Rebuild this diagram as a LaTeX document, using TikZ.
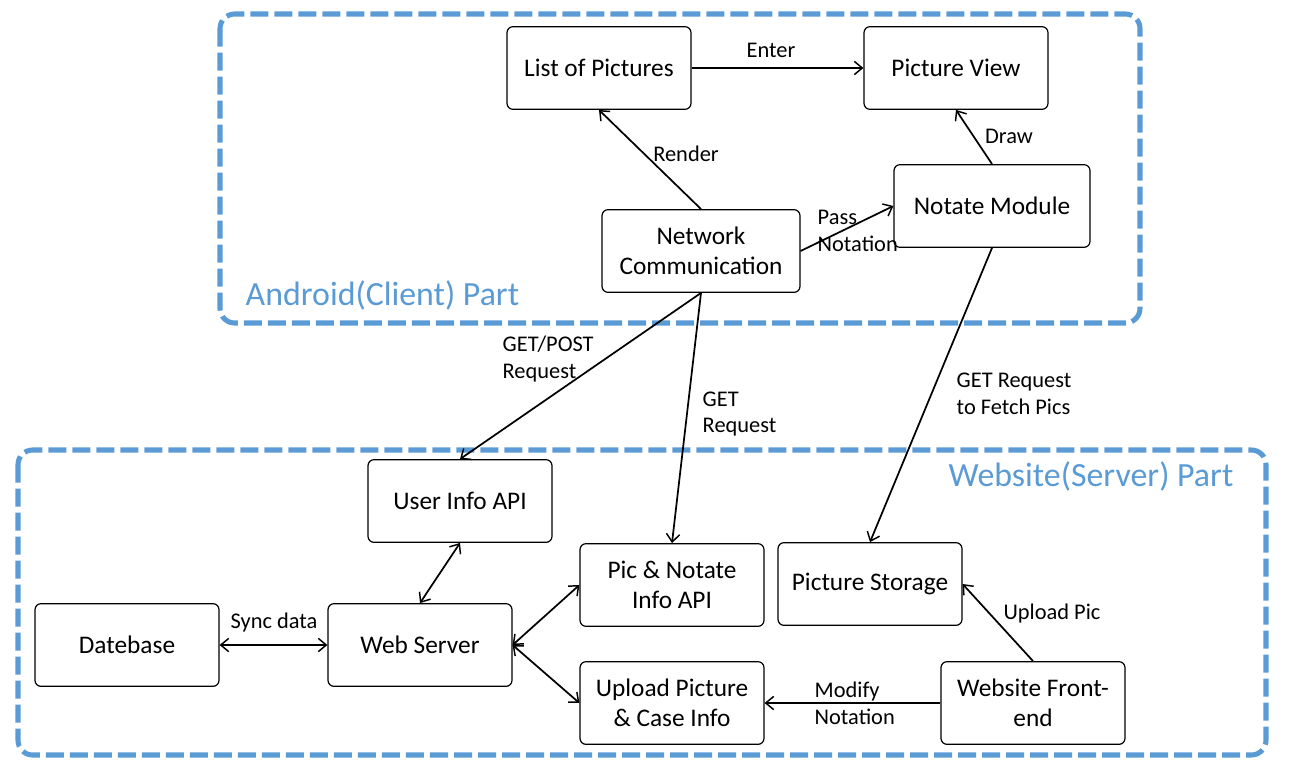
\documentclass[tikz,border=0pt]{standalone}
\usepackage{fontspec}
\setmainfont{Carlito}
\usetikzlibrary{arrows.meta}

\definecolor{partblue}{RGB}{91,155,213}

\tikzset{
  box/.style={draw,black,line width=0.9pt,rounded corners=4.5pt,minimum width=138pt,minimum height=62pt,align=center,font=\fontsize{19}{22.5}\selectfont},
  lbl/.style={align=left,font=\fontsize{16.8}{20}\selectfont},
  part/.style={draw=partblue,line width=3.8pt,rounded corners=11pt,dash pattern=on 13.5pt off 4.5pt},
  parttitle/.style={text=partblue,font=\fontsize{25.4}{30}\selectfont},
  arr/.style={line width=1.3pt,-{Straight Barb[length=6pt,width=10pt,line width=1.1pt]}},
  darr/.style={line width=1.3pt,{Straight Barb[length=6pt,width=10pt,line width=1.1pt]}-{Straight Barb[length=6pt,width=10pt,line width=1.1pt]}}
}

\begin{document}
\begin{tikzpicture}[x=0.75pt,y=0.75pt,yscale=-1,xscale=1]
\useasboundingbox (0,0) rectangle (1293,768);

% android part
\draw [part] (220,14) rectangle (1140,323);
\node [parttitle,anchor=west] (andtitle) at (241,295) {Android(Client) Part};

\node [box] (lp) at (599,68) {List of Pictures};
\node [box] (pv) at (956,68) {Picture View};
\node [box,minimum width=147pt] (nm) at (992,206) {Notate Module};
\node [box,minimum width=148.5pt] (nc) at (701,251) {Network\\Communication};

% website part
\draw [part] (18,450) rectangle (1266,755);
\node [parttitle,anchor=east] (webtitle) at (1238,476) {Website(Server) Part};

\node [box] (uia) at (460,501) {User Info API};
\node [box] (pna) at (672,585) {Pic \& Notate\\Info API};
\node [box] (ps) at (870,584) {Picture Storage};
\node [box] (db) at (127,645) {Datebase};
\node [box] (ws) at (420,645) {Web Server};
\node [box] (up) at (672,703) {Upload Picture\\\& Case Info};
\node [box] (wf) at (1033,703) {Website Front-\\end};

% connections
\draw [arr] (lp.east) -- (pv.west);
\draw [arr] (nc.north) -- (lp.south);
\draw [arr] (nc.east) -- (nm.west);
\draw [arr] (nm.north) -- (pv.south);
\draw [arr] (nc.south) -- (uia.north);
\draw [arr] (nc.south) -- (pna.north);
\draw [arr] (nm.south) -- (ps.north);
\draw [darr] (uia.south) -- (ws.north);
\draw [darr] (db.east) -- (ws.west);
\draw [darr] (ws.east) -- (pna.west);
\draw [darr] (ws.east) -- (up.west);
\draw [arr] (wf.west) -- (up.east);
\draw [arr] (wf.north) -- (ps.east);

% labels
\node [lbl] (lenter) at (771,50) {Enter};
\node [lbl] (lrender) at (686,154) {Render};
\node [lbl,anchor=west] (lpass) at (813,231) {Pass\\Notation};
\node [lbl] (ldraw) at (1009,136) {Draw};
\node [lbl,anchor=west] (lgetpost) at (498,359) {GET/POST\\Request};
\node [lbl,anchor=west] (lget) at (698,414) {GET\\Request};
\node [lbl,anchor=west] (lfetch) at (952,394) {GET Request\\to Fetch Pics};
\node [lbl] (lsync) at (274,623) {Sync data};
\node [lbl] (lupload) at (1052,614) {Upload Pic};
\node [lbl,anchor=west] (lmodify) at (810,703) {Modify\\Notation};
\end{tikzpicture}
\end{document}
